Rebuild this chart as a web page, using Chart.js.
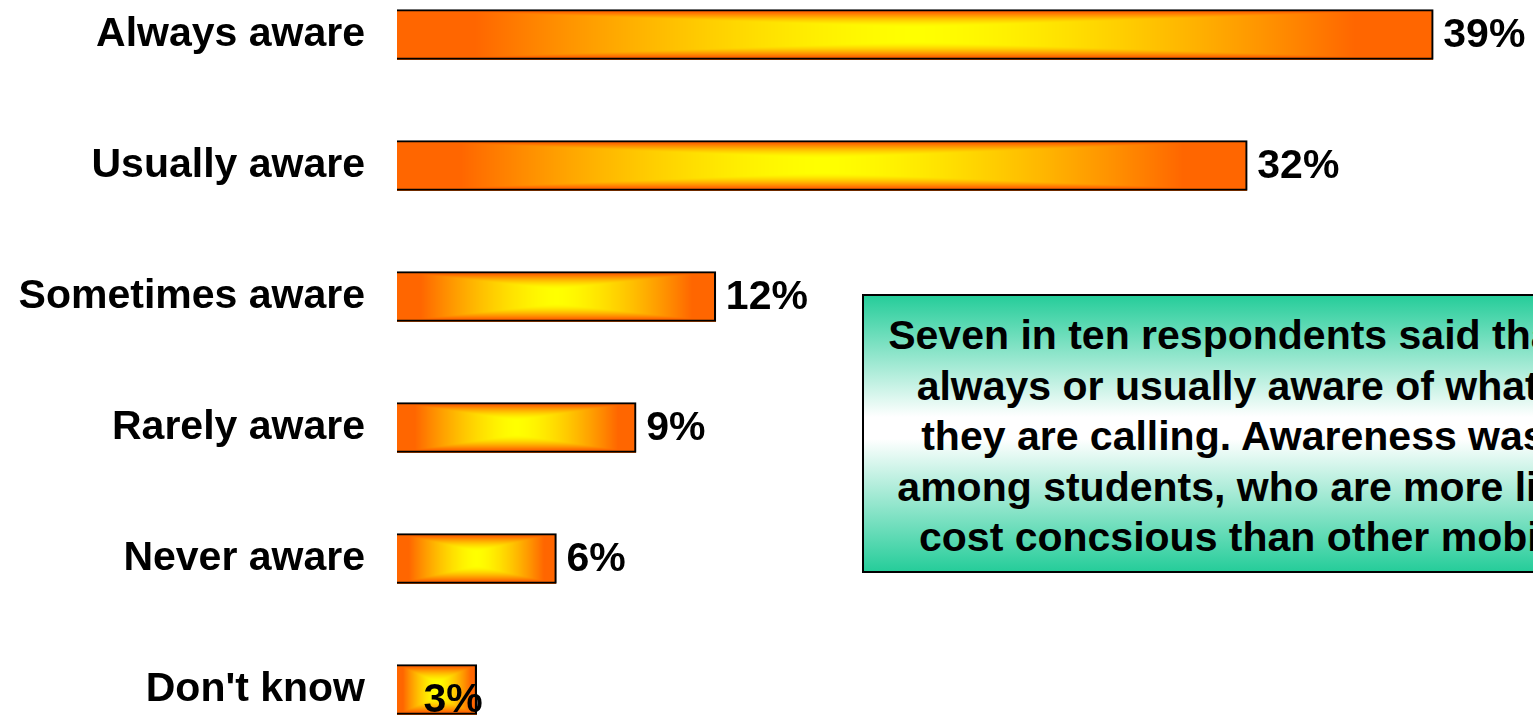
<!DOCTYPE html>
<html>
<head>
<meta charset="utf-8">
<title>Awareness of call cost</title>
<script src="https://cdn.jsdelivr.net/npm/chart.js@4.4.0/dist/chart.umd.min.js"></script>
<style>
  html, body { margin: 0; padding: 0; background: #fff; overflow: hidden; }
  #wrap { position: relative; width: 1533px; height: 716px; overflow: hidden; }
  #chart { position: absolute; left: 0; top: -31px; }
  #note {
    position: absolute; left: 862px; top: 294px; width: 900px; height: 279px;
    box-sizing: border-box; border: 2px solid #000;
    background: linear-gradient(to bottom, #26cd9a 0%, #ffffff 44%, #ffffff 52%, #26cd9a 100%);
    text-align: center; white-space: nowrap; color: #000; padding-top: 14px;
    font: bold 41px "Liberation Sans", Arial, sans-serif; line-height: 50.5px;
  }
</style>
</head>
<body>
<div id="wrap">
  <canvas id="chart" width="1533" height="786"></canvas>
  <div id="note">Seven in ten respondents said that they are<br>always or usually aware of what network<br>they are calling. Awareness was highest<br>among students, who are more likely to be<br>cost concsious than other mobile users.</div>
</div>
<script>
const categories = ["Always aware", "Usually aware", "Sometimes aware", "Rarely aware", "Never aware", "Don't know"];
const shares = [39, 32, 12, 9, 6, 3];

// Orange edges fading to a yellow centre, built once per bar size
const fillCache = {};
const barFill = (w, h) => {
  const key = w + "x" + h;
  if (fillCache[key]) return fillCache[key];
  const c = document.createElement("canvas");
  c.width = w;
  c.height = h;
  const g = c.getContext("2d");
  const img = g.createImageData(w, h);
  for (let y = 0; y < h; y++) {
    for (let x = 0; x < w; x++) {
      const dx = Math.abs(x + 0.5 - w / 2) / (w / 2);
      const dy = Math.abs(y + 0.5 - h / 2) / (h / 2);
      const t = Math.max(dx, Math.max(0, (dy - 0.3) / 0.7));
      const f = Math.pow(Math.min(1, t / 0.85), 1.5);
      const i = (y * w + x) * 4;
      img.data[i] = 255;
      img.data[i + 1] = Math.round(255 - 153 * f);
      img.data[i + 2] = 0;
      img.data[i + 3] = 255;
    }
  }
  g.putImageData(img, 0, 0);
  fillCache[key] = c;
  return c;
};

const gradientBars = {
  id: "gradientBars",
  beforeDatasetsDraw(chart) {
    const ctx = chart.ctx;
    chart.getDatasetMeta(0).data.forEach((bar) => {
      const p = bar.getProps(["x", "y", "base", "height"], true);
      const left = Math.min(p.base, p.x);
      const w = Math.max(1, Math.round(Math.abs(p.x - p.base)));
      const h = Math.max(1, Math.round(p.height));
      ctx.drawImage(barFill(w, h), left, p.y - h / 2, w, h);
    });
  },
};

// Percent labels at the end of each bar
const valueLabels = {
  id: "valueLabels",
  afterDatasetsDraw(chart) {
    const ctx = chart.ctx;
    ctx.save();
    ctx.font = 'bold 41px "Liberation Sans", Arial, sans-serif';
    ctx.fillStyle = "#000";
    ctx.textBaseline = "middle";
    chart.getDatasetMeta(0).data.forEach((bar, i) => {
      const text = shares[i] + "%";
      if (i === shares.length - 1) {
        ctx.textAlign = "right";
        ctx.fillText(text, bar.x + 6, bar.y + 11);
      } else {
        ctx.textAlign = "left";
        ctx.fillText(text, bar.x + 10, bar.y + 1);
      }
    });
    ctx.restore();
  },
};

new Chart(document.getElementById("chart"), {
  type: "bar",
  plugins: [gradientBars, valueLabels],
  data: {
    labels: categories,
    datasets: [
      {
        data: shares,
        backgroundColor: "rgba(0,0,0,0)",
        borderColor: "#000",
        borderWidth: 1.5,
        barThickness: 50,
      },
    ],
  },
  options: {
    indexAxis: "y",
    responsive: false,
    devicePixelRatio: 1,
    animation: false,
    layout: { padding: { left: 0, right: 20, top: 0, bottom: 0 } },
    plugins: {
      legend: { display: false },
      tooltip: { enabled: false },
    },
    scales: {
      x: { min: 0, max: 42, display: false },
      y: {
        grid: { display: false, drawTicks: false },
        border: { display: false },
        ticks: {
          color: "#000",
          padding: 32,
          font: { family: '"Liberation Sans", Arial, sans-serif', size: 41, weight: "bold" },
        },
        afterFit: (scale) => {
          scale.width = 397;
          scale.paddingTop = 0;
          scale.paddingBottom = 0;
        },
      },
    },
  },
});
</script>
</body>
</html>
